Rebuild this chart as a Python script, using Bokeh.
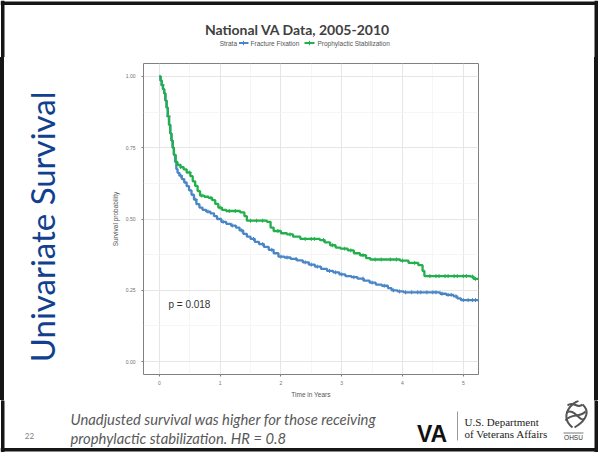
import numpy as np
from bokeh.plotting import figure
from bokeh.layouts import column, row
from bokeh.models import Label, Range1d, FixedTicker, Div
from bokeh.core.properties import value
from bokeh.embed import file_html
from bokeh.resources import INLINE

# ---- texts ----
slide_title = "Univariate Survival"
chart_title = "National VA Data, 2005-2010"
legend_title = "Strata"
strata = ["Fracture Fixation", "Prophylactic Stabilization"]
x_label = "Time in Years"
y_label = "Survival probability"
pval_text = "p = 0.018"
caption_1 = "Unadjusted survival was higher for those receiving"
caption_2 = "prophylactic stabilization. HR = 0.8"
page_no = "22"

x_ticks = [0, 1, 2, 3, 4, 5]
y_ticks = [0.0, 0.25, 0.50, 0.75, 1.00]
y_tick_labels = ["0.00", "0.25", "0.50", "0.75", "1.00"]

# ---- Kaplan-Meier estimates ----
ff_time = [0, 0.02, 0.04, 0.06, 0.08, 0.10, 0.12, 0.14, 0.16, 0.18, 0.20, 0.22, 0.24, 0.26, 0.28, 0.30,
           0.33, 0.37, 0.41, 0.45, 0.49, 0.53, 0.57, 0.61, 0.66, 0.71, 0.77, 0.84, 0.90, 0.95, 1.02,
           1.10, 1.18, 1.26, 1.32, 1.38, 1.44, 1.50, 1.57, 1.64, 1.72, 1.80, 1.88, 1.96, 2.06, 2.16,
           2.26, 2.36, 2.46, 2.56, 2.66, 2.76, 2.86, 2.96, 3.06, 3.16, 3.26, 3.36, 3.46, 3.56, 3.66,
           3.76, 3.82, 3.92, 4.02, 4.62, 4.72, 4.84, 4.90, 4.96, 5.25]
ff_surv = [1.0, 0.985, 0.97, 0.955, 0.94, 0.915, 0.89, 0.86, 0.83, 0.80, 0.775, 0.75, 0.725, 0.70, 0.675, 0.662,
           0.652, 0.64, 0.628, 0.615, 0.60, 0.585, 0.568, 0.552, 0.54, 0.532, 0.526, 0.52, 0.51, 0.50, 0.49,
           0.483, 0.477, 0.47, 0.46, 0.448, 0.438, 0.43, 0.42, 0.412, 0.402, 0.392, 0.38, 0.368, 0.365, 0.36,
           0.355, 0.348, 0.34, 0.333, 0.325, 0.318, 0.313, 0.306, 0.30, 0.296, 0.291, 0.284, 0.277, 0.27, 0.266,
           0.258, 0.25, 0.246, 0.243, 0.238, 0.234, 0.229, 0.222, 0.216, 0.216]

ps_time = [0, 0.02, 0.04, 0.06, 0.08, 0.10, 0.12, 0.14, 0.16, 0.18, 0.20, 0.22, 0.24, 0.27, 0.30, 0.35,
           0.40, 0.45, 0.51, 0.55, 0.59, 0.63, 0.67, 0.74, 0.81, 0.87, 0.92, 0.97, 1.03, 1.10, 1.33,
           1.40, 1.44, 1.77, 1.83, 1.88, 2.00, 2.10, 2.20, 2.32, 2.64, 2.72, 2.81, 2.90, 2.98, 3.10,
           3.20, 3.30, 3.40, 3.47, 3.96, 4.10, 4.26, 4.33, 4.36, 5.12, 5.17, 5.25]
ps_surv = [1.0, 0.985, 0.97, 0.955, 0.94, 0.915, 0.89, 0.86, 0.83, 0.80, 0.775, 0.75, 0.725, 0.70, 0.69, 0.682,
           0.674, 0.663, 0.65, 0.632, 0.616, 0.598, 0.582, 0.578, 0.574, 0.566, 0.553, 0.54, 0.532, 0.528, 0.523,
           0.51, 0.494, 0.49, 0.47, 0.458, 0.45, 0.446, 0.438, 0.43, 0.426, 0.418, 0.408, 0.40, 0.396, 0.39,
           0.38, 0.373, 0.363, 0.358, 0.354, 0.346, 0.338, 0.318, 0.30, 0.298, 0.29, 0.29]

ff_censor = [0.05, 0.15, 0.35, 0.6, 0.8, 1.05, 1.2, 1.35, 1.55, 1.7, 1.85, 2.0, 2.1, 2.25, 2.4, 2.5, 2.6,
             2.8, 2.9, 3.0, 3.2, 3.35, 3.5, 3.7, 3.85, 3.95, 4.05, 4.15, 4.25, 4.3, 4.4, 4.5, 4.55,
             4.65, 4.75, 4.8, 4.88, 5.0, 5.08, 5.15, 5.2]
ps_censor = [0.05, 0.15, 0.35, 0.5, 0.7, 0.85, 1.0, 1.15, 1.25, 1.5, 1.6, 1.7, 1.95, 2.15, 2.4, 2.5, 2.55,
             2.7, 2.85, 3.05, 3.15, 3.35, 3.55, 3.65, 3.8, 3.9, 4.0, 4.2, 4.45, 4.55, 4.6, 4.7,
             4.75, 4.85, 4.9, 5.0, 5.05, 5.15, 5.2]

colors = ["#4a86c5", "#22b04c"]
BORDER = "#161616"


def surv_at(times, surv, t):
    t_arr = np.asarray(times)
    idx = np.searchsorted(t_arr, np.asarray(t), side="right") - 1
    return np.asarray(surv)[idx]


PAGE_W, PAGE_H = 598, 452
TOP_H, MID_H = 57, 343
BOT_H = PAGE_H - TOP_H - MID_H
EDGE_W, LEFT_W = 4, 96
KM_W = PAGE_W - 2 * EDGE_W - LEFT_W
KM_BT, KM_BB = 6, 23          # km frame border top / bottom

# slide frame pieces (page pixels): left, right, top, bottom
frame_pieces = [(0.5, 4, 0, PAGE_H), (594, 597.5, 0, PAGE_H), (0, PAGE_W, 1, 4.5), (0, PAGE_W, 447.5, 451)]


def blank(w, h, x0, y0, bt=0, bb=0, fill="white"):
    f = figure(width=w, height=h, output_backend="svg", toolbar_location=None,
               x_range=Range1d(x0, x0 + w), y_range=Range1d(y0 + h - bb, y0 + bt),
               x_axis_type=None, y_axis_type=None, min_border=0, min_border_top=bt, min_border_bottom=bb,
               background_fill_color=fill, border_fill_color=fill)
    f.outline_line_color = None
    f.grid.visible = False
    L, R, T, B = [], [], [], []
    for (l, r, t, b) in frame_pieces:
        l2, r2, t2, b2 = max(l, x0), min(r, x0 + w), max(t, y0 + bt), min(b, y0 + h - bb)
        if l2 < r2 and t2 < b2:
            L.append(l2); R.append(r2); T.append(t2); B.append(b2)
    if L:
        f.quad(left=L, right=R, top=T, bottom=B, fill_color=BORDER, line_color=None)
    return f


def edge(w, h):
    return Div(text="", width=w, height=h, margin=0,
               styles={"background-color": BORDER, "padding": "0px"})


# ---------------- top strip: chart title + legend ----------------
top = blank(PAGE_W, TOP_H, 0, 0)
top.text(x=[297], y=[29], text=[chart_title], text_font=value("Lato"), text_font_style="bold",
         text_font_size="14px", text_color="#404040", text_align="center", text_baseline="alphabetic")
leg_font = dict(text_font=value("Liberation Sans"), text_font_size="6.5px", text_color="#555555",
                text_baseline="middle")
top.text(x=[236.5], y=[42.5], text=[legend_title], text_align="right", **leg_font)
top.text(x=[250, 317], y=[42.5, 42.5], text=strata, text_align="left", **leg_font)
top.segment(x0=[238.5, 304], y0=[42.5, 42.5], x1=[248, 314], y1=[42.5, 42.5], line_color=colors, line_width=2)
top.segment(x0=[243, 309], y0=[40.3, 40.3], x1=[243, 309], y1=[44.7, 44.7], line_color=colors,
            line_width=1)

# ---------------- left strip: slide title (transparent so the page outline shows) ----------------
left = blank(LEFT_W, MID_H, EDGE_W, TOP_H, bt=KM_BT, bb=KM_BB, fill=None)
left.text(x=[41], y=[228], text=[slide_title], text_font=value("Lato"), text_font_size="33px",
          text_color="#123f8e", text_align="center", text_baseline="middle", angle=np.pi / 2)

# ---------------- KM chart ----------------
km = figure(width=KM_W, height=MID_H, output_backend="svg", toolbar_location=None,
            x_range=Range1d(-0.26, 5.25), y_range=Range1d(-0.045, 1.045),
            min_border_left=43, min_border_right=KM_W - 43 - 335, min_border_top=KM_BT,
            min_border_bottom=KM_BB, background_fill_color=None, border_fill_color=None)
km.outline_line_color = "#808080"
km.outline_line_width = 1
km.xaxis.ticker = FixedTicker(ticks=x_ticks, minor_ticks=[0.5, 1.5, 2.5, 3.5, 4.5])
km.yaxis.ticker = FixedTicker(ticks=y_ticks, minor_ticks=[0.125, 0.375, 0.625, 0.875])
km.yaxis.major_label_overrides = {t: l for t, l in zip(y_ticks, y_tick_labels)}
for g in (km.xgrid, km.ygrid):
    g.grid_line_color = "#e6e6e6"
    g.grid_line_width = 1
    g.minor_grid_line_color = "#f2f2f2"
    g.minor_grid_line_width = 0.7
for ax in (km.xaxis, km.yaxis):
    ax.axis_line_color = None
    ax.major_tick_line_color = "#7a7a7a"
    ax.major_tick_out = 2
    ax.major_tick_in = 0
    ax.minor_tick_line_color = None
    ax.major_label_text_font = "Liberation Sans"
    ax.major_label_text_font_size = "5px"
    ax.major_label_text_color = "#707070"
    ax.axis_label_text_font = "Liberation Sans"
    ax.axis_label_text_font_size = "6.5px"
    ax.axis_label_text_font_style = "normal"
    ax.axis_label_text_color = "#555555"
km.xaxis.major_label_standoff = 2
km.yaxis.major_label_standoff = 4
km.xaxis.axis_label = x_label
km.yaxis.axis_label = y_label
km.xaxis.axis_label_standoff = 3
km.yaxis.axis_label_standoff = 4

km.step(ff_time, ff_surv, mode="after", line_color=colors[0], line_width=2.3)
km.step(ps_time, ps_surv, mode="after", line_color=colors[1], line_width=2.3)
km.scatter(ff_censor, surv_at(ff_time, ff_surv, ff_censor), marker="cross", size=4,
           line_color=colors[0], line_width=1)
km.scatter(ps_censor, surv_at(ps_time, ps_surv, ps_censor), marker="cross", size=4,
           line_color=colors[1], line_width=1)
km.add_layout(Label(x=0.15, y=0.2, text=pval_text, text_font="Liberation Sans", text_font_size="10px",
                    text_color="#333333", text_baseline="middle", text_align="left"))

# ---------------- bottom strip: caption + logos ----------------
bot = blank(PAGE_W, BOT_H, 0, TOP_H + MID_H)
bot.text(x=[70, 70], y=[418, 437.5], text=[caption_1, caption_2], text_font=value("Lato"),
         text_font_style="italic", text_font_size="14.8px", text_color="#595959",
         text_align="left", text_baseline="alphabetic")
bot.text(x=[29], y=[435], text=[page_no], text_font=value("Lato"), text_font_size="8px",
         text_color="#7f7f7f", text_align="center", text_baseline="middle")
bot.text(x=[431.5], y=[433], text=["VA"], text_font=value("Liberation Sans"), text_font_style="bold",
         text_font_size="23px", text_color="#111111", text_align="center", text_baseline="alphabetic")
bot.segment(x0=[457], y0=[411], x1=[457], y1=[440], line_color="#9a9a9a", line_width=1)
bot.text(x=[464, 464], y=[421.5, 433.5], text=["U.S. Department", "of Veterans Affairs"],
         text_font=value("Liberation Serif"), text_font_size="11px", text_color="#222222",
         text_align="left", text_baseline="alphabetic")
bot.text(x=[573], y=[437], text=["OHSU"], text_font=value("Liberation Sans"), text_font_size="6.5px",
         text_color="#333333", text_align="center", text_baseline="middle")
bot.segment(x0=[563], y0=[432.5], x1=[583], y1=[432.5], line_color="#555555", line_width=0.8)
# stylised OHSU flame
bot.bezier(x0=[572, 574, 565, 566, 567], y0=[427, 427, 420, 412, 405],
           x1=[578, 582, 585, 584, 582], y1=[400, 404, 411, 418, 404],
           cx0=[561, 589, 572, 574, 573], cy0=[418, 418, 412, 407, 400],
           cx1=[566, 588, 578, 580, 577], cy1=[406, 409, 418, 423, 409],
           line_color="#555555", line_width=2)

middle = row(edge(EDGE_W, MID_H), left, km, edge(EDGE_W, MID_H))
layout = column(top, middle, bot)
layout.styles = {"outline": "3.5px solid #161616", "outline-offset": "-4px"}

open("out.html", "w").write(file_html(layout, INLINE))
